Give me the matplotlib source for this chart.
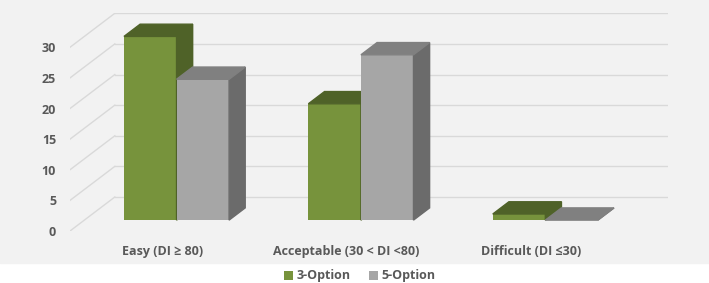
import numpy as np
import matplotlib.pyplot as plt
from matplotlib.patches import Polygon, Rectangle

plt.rcParams['font.family'] = ['Open Sans', 'DejaVu Sans']

categories = ['Easy (DI \u2265 80)', 'Acceptable (30 < DI <80)', 'Difficult (DI \u226430)']
series = ['3-Option', '5-Option']
three_option = [30, 19, 1]
five_option = [23, 27, 0]
yticks = [0, 5, 10, 15, 20, 25, 30]

front_col = ['#77933c', '#a6a6a6']
top_col = ['#4f6228', '#808080']
side_col = ['#4f6228', '#6b6b6b']
txt = '#595959'
grid = '#d9d9d9'

# oblique "3d" offsets (full depth of the box), in data units
DX, DY = 0.243, 5.55
d0, d1 = 0.32, 0.68
w = 0.285

fig = plt.figure(figsize=(7.09, 2.83), dpi=100)
fig.patches.append(Rectangle((0, 20 / 283), 1, 1, transform=fig.transFigure,
                             color='#f2f2f2', zorder=-10))
ax = fig.add_axes([70 / 709, (283 - 231) / 283, (668 - 70) / 709, 218 / 283])
ax.set_facecolor('none')
ax.set_xlim(-0.5, 2.5 + DX)
ax.set_ylim(0, 30 + DY + 0.05)

# floor-to-wall diagonals and back wall gridlines
for v in yticks:
    ax.plot([-0.5, -0.5 + DX], [v, v + DY], color=grid, lw=1, zorder=1)
    ax.plot([-0.5 + DX, 2.5 + DX], [v + DY, v + DY], color=grid, lw=1, zorder=1)

data = [three_option, five_option]
for j, vals in enumerate(data):
    for i, v in enumerate(vals):
        xl = i + d0 * DX - w + j * w
        xr = xl + w
        yb = d0 * DY
        yt = yb + v
        ddx, ddy = (d1 - d0) * DX, (d1 - d0) * DY
        ax.bar(xl, v, width=w, bottom=yb, align='edge', color=front_col[j],
               label=series[j] if i == 0 else None, zorder=2 + i * 2 + j)
        ax.add_patch(Polygon([(xr, yb), (xr, yt), (xr + ddx, yt + ddy), (xr + ddx, yb + ddy)],
                             closed=True, color=side_col[j], zorder=2 + i * 2 + j))
        ax.add_patch(Polygon([(xl, yt), (xr, yt), (xr + ddx, yt + ddy), (xl + ddx, yt + ddy)],
                             closed=True, color=top_col[j], zorder=2 + i * 2 + j))

ax.set_yticks(yticks)
ax.set_yticklabels([str(t) for t in yticks], fontweight='bold')
ax.set_xticks(range(len(categories)))
ax.set_xticklabels(categories, fontweight='bold')
ax.tick_params(axis='y', length=0, pad=10, labelsize=9, labelcolor=txt)
ax.tick_params(axis='x', length=0, pad=10, labelsize=9, labelcolor=txt)
for s in ax.spines.values():
    s.set_visible(False)

fig.legend(loc='center', bbox_to_anchor=(360 / 709, 7 / 283), ncol=2, frameon=False,
           handlelength=0.7, handleheight=0.7, handletextpad=0.3, columnspacing=1.5,
           prop={'weight': 'bold', 'size': 9}, labelcolor=txt)

fig.savefig('out.png', dpi=100, facecolor='white')
